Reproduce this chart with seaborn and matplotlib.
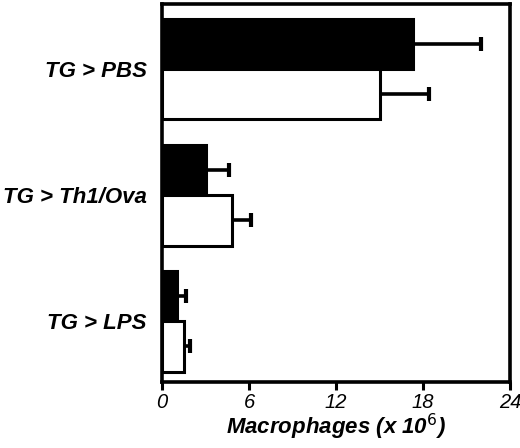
import matplotlib
matplotlib.use("Agg")
import matplotlib.pyplot as plt
import seaborn as sns
import pandas as pd
import numpy as np

groups = ["TG > PBS", "TG > Th1/Ova", "TG > LPS"]
series = ["filled", "open"]
filled_vals = [17.3, 3.05, 1.05]
open_vals = [15.0, 4.85, 1.5]
filled_err = [4.7, 1.6, 0.6]
open_err = [3.4, 1.3, 0.45]
x_ticks = [0, 6, 12, 18, 24]

sns.set_theme(style="white")
plt.rcParams['font.family'] = ['Liberation Sans', 'DejaVu Sans']
plt.rcParams['text.color'] = 'black'
plt.rcParams['xtick.color'] = 'black'
plt.rcParams['ytick.color'] = 'black'
plt.rcParams['axes.labelcolor'] = 'black'

df = pd.DataFrame({
    "group": groups * 2,
    "series": [series[0]] * 3 + [series[1]] * 3,
    "value": filled_vals + open_vals,
})

fig = plt.figure(figsize=(5.2, 4.48), dpi=100)
ax = fig.add_axes([0.3115, 0.147, 0.6695, 0.844])

sns.barplot(data=df, y="group", x="value", hue="series", order=groups,
            hue_order=series, palette=["black", "white"], orient="h",
            edgecolor="black", linewidth=2.2, width=0.8, errorbar=None,
            legend=False, ax=ax, saturation=1, zorder=3)

# one-sided error bars
cap = 0.055
for cont, errs in zip(ax.containers, [filled_err, open_err]):
    for bar, e in zip(cont, errs):
        yc = bar.get_y() + bar.get_height() / 2
        w = bar.get_width()
        ax.hlines(yc, w, w + e, colors="black", linewidth=2.6, zorder=2)
        ax.vlines(w + e, yc - cap, yc + cap, colors="black", linewidth=3.0, zorder=2)

ax.set_xlim(0, 24)
ax.set_ylim(2.484, -0.516)
ax.set_xticks(x_ticks)
ax.set_xticklabels([str(t) for t in x_ticks], fontsize=14.5, style="italic")
ax.set_yticks(range(len(groups)))
ax.set_yticklabels(groups, fontsize=16, style="italic", fontweight="bold")
ax.tick_params(axis="x", direction="out", length=6, width=2.2, bottom=True, pad=2)
ax.tick_params(axis="y", length=0, pad=11)
ax.set_xlabel("Macrophages (x 10$^{6}$)", fontsize=16, style="italic",
              fontweight="bold", labelpad=0)
ax.set_ylabel("")
for s in ax.spines.values():
    s.set_visible(True)
    s.set_color("black")
    s.set_linewidth(2.6)

fig.savefig("out.png", dpi=100)
